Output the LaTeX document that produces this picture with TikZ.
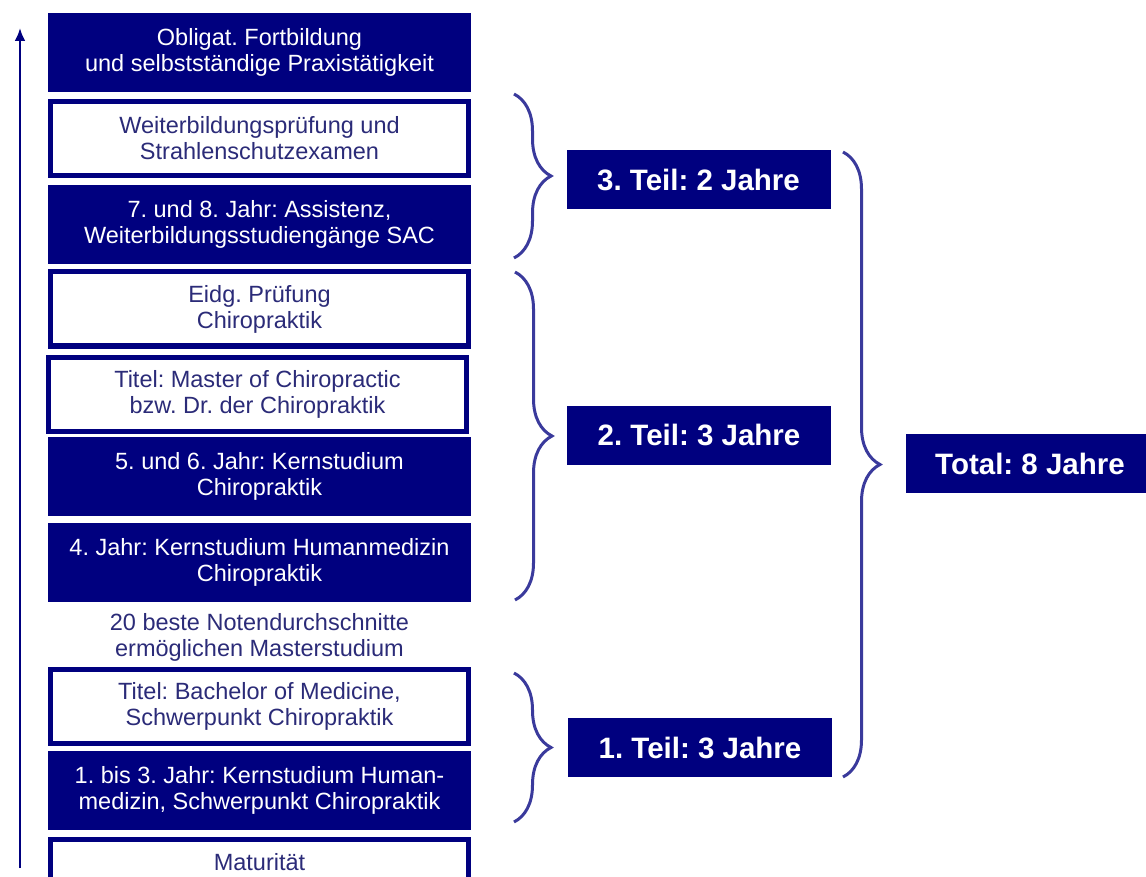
\documentclass[tikz,border=0pt]{standalone}
\usepackage{fontspec}
\setmainfont{Liberation Sans}
\usepackage{xcolor}
\usepackage{tikz}
\usetikzlibrary{arrows.meta,decorations.pathreplacing}
\definecolor{chiroNavy}{HTML}{00007F}
\definecolor{chiroText}{HTML}{2B2B78}
\definecolor{braceBlue}{HTML}{3A3A9C}
\frenchspacing
\tikzset{
  fullbox/.style={rectangle, fill=chiroNavy, text=white, align=center, font=\fontsize{23.5}{26}\selectfont, minimum width=423, minimum height=79, inner sep=0pt},
  openbox/.style={rectangle, draw=chiroNavy, fill=white, line width=5pt, text=chiroText, align=center, font=\fontsize{23.5}{26}\selectfont, minimum width=418, minimum height=74, inner sep=0pt},
  notetext/.style={text=chiroText, align=center, font=\fontsize{23.5}{26}\selectfont, inner sep=0pt},
  partbox/.style={rectangle, fill=chiroNavy, text=white, font=\fontsize{29.5}{32}\selectfont\bfseries, minimum width=264, minimum height=59, inner sep=0pt},
  bracedeco/.style={decorate, decoration={brace, amplitude=37pt}, draw=braceBlue, line width=3pt},
  uparrow/.style={-{Latex[length=13pt,width=11pt]}, line width=2.8pt, draw=chiroNavy},
}
\begin{document}
\begin{tikzpicture}[x=1pt,y=-1pt]
  \useasboundingbox (0,0) rectangle (1146,877);
  \clip (0,0) rectangle (1146,877);

  % left column, top to bottom
  \node[fullbox] (obl) at (259.5,52.5) {Obligat. Fortbildung\\und selbstständige Praxistätigkeit};
  \node[openbox] (wbpruef) at (259.5,138.5) {Weiterbildungsprüfung und\\Strahlenschutzexamen};
  \node[fullbox] (assist) at (259.5,224.5) {7. und 8. Jahr: Assistenz,\\Weiterbildungsstudiengänge SAC};
  \node[openbox] (eidg) at (259.5,309) {Eidg. Prüfung\\Chiropraktik};
  \node[openbox] (master) at (257.5,394) {Titel: Master of Chiropractic\\bzw. Dr. der Chiropraktik};
  \node[fullbox] (kern56) at (259.5,476) {5. und 6. Jahr: Kernstudium\\Chiropraktik};
  \node[fullbox] (kern4) at (259.5,562.5) {4. Jahr: Kernstudium Humanmedizin\\Chiropraktik};
  \node[notetext] (noten) at (259.5,637) {20 beste Notendurchschnitte\\ermöglichen Masterstudium};
  \node[openbox] (bachelor) at (259.5,706.5) {Titel: Bachelor of Medicine,\\Schwerpunkt Chiropraktik};
  \node[fullbox] (kern13) at (259.5,790.5) {1. bis 3. Jahr: Kernstudium Human-\\medizin, Schwerpunkt Chiropraktik};
  \node[openbox, minimum height=45] (matur) at (259.5,862) {Maturität};

  % time axis
  \coordinate (arrbot) at (20,868);
  \coordinate (arrtop) at (20,28);
  \draw[uparrow] (arrbot) -- (arrtop);

  % parts
  \node[partbox] (teil3) at (698.5,179.5) {3. Teil: 2 Jahre};
  \node[partbox] (teil2) at (699,435) {2. Teil: 3 Jahre};
  \node[partbox] (teil1) at (700,747.5) {1. Teil: 3 Jahre};
  \node[partbox, minimum width=248] (total) at (1030,463.5) {Total: 8 Jahre};

  \coordinate (b3top) at (514,94);
  \coordinate (b3bot) at (514,258);
  \coordinate (b2top) at (515,272);
  \coordinate (b2bot) at (515,600);
  \coordinate (b1top) at (514,673);
  \coordinate (b1bot) at (514,822);
  \coordinate (btop) at (843,152);
  \coordinate (bbot) at (843,777);
  \draw[bracedeco] (b3top) -- (b3bot);
  \draw[bracedeco] (b2top) -- (b2bot);
  \draw[bracedeco] (b1top) -- (b1bot);
  \draw[bracedeco] (btop) -- (bbot);
\end{tikzpicture}
\end{document}
